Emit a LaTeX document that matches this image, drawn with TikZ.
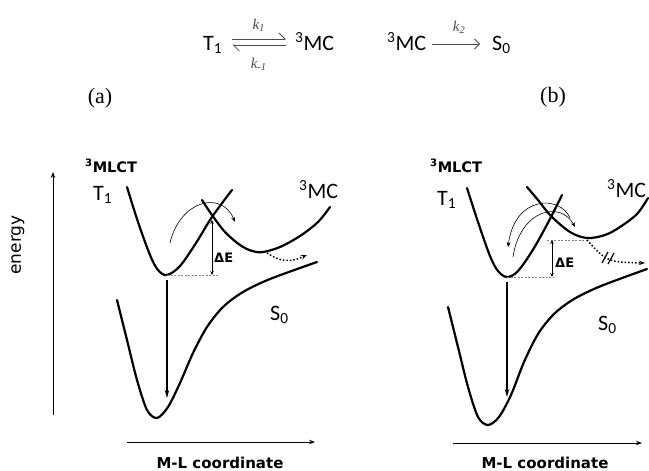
\documentclass[tikz,border=0pt]{standalone}
\usepackage{fontspec}
\setmainfont{Carlito}
\newfontfamily\labfont{DejaVu Sans}
\newfontfamily\serfont{Liberation Serif}
\usetikzlibrary{arrows.meta, positioning}

\begin{document}
\begin{tikzpicture}[x=1pt, y=-1pt, >=Stealth,
    pes/.style={line width=2.2pt, line cap=round, line join=round},
    axis/.style={line width=1pt, -{Stealth[length=6pt,width=4.5pt]}},
    emis/.style={line width=1.5pt, -{Stealth[length=8pt,width=4.5pt]}},
    thinarr/.style={line width=0.6pt, -{Stealth[length=5pt,width=4pt]}},
    gap/.style={line width=0.7pt, {Stealth[length=4pt,width=3.5pt]}-{Stealth[length=4pt,width=3.5pt]}},
    guide/.style={gray, line width=0.7pt, dash pattern=on 2pt off 1.5pt},
    hop/.style={line width=1.5pt, dash pattern=on 1.5pt off 2pt, -{Stealth[length=6pt,width=4.5pt]}},
    rxn/.style={line width=0.8pt, gray!60!black},
    species/.style={font=\fontsize{22}{22}\selectfont, inner sep=0pt},
    state/.style={font=\labfont\bfseries\fontsize{14.5}{14.5}\selectfont, inner sep=0pt},
    axlabel/.style={font=\labfont\bfseries\fontsize{15}{15}\selectfont, inner sep=0pt},
    gaplabel/.style={font=\labfont\bfseries\fontsize{13}{13}\selectfont, inner sep=0pt},
    rate/.style={font=\serfont\itshape\fontsize{15}{15}\selectfont, inner sep=0pt},
    panel/.style={font=\serfont\fontsize{22}{22}\selectfont, inner sep=0pt}]
    \useasboundingbox (0,0) rectangle (649,471);

    % Kinetic schemes
    \node[species, anchor=base west] (t1) at (203,50) {T\textsubscript{1}};
    \node[species, anchor=base west] (mc1) at (295,50) {\textsuperscript{3}MC};
    \node[species, anchor=base west] (mc2) at (387,50) {\textsuperscript{3}MC};
    \node[species, anchor=base west] (s0) at (492,50) {S\textsubscript{0}};
    \draw[rxn, -{Straight Barb[harpoon, length=6pt]}, shorten <=10pt, shorten >=9pt]
        ([yshift=11pt]t1.base east) -- ([yshift=11pt]mc1.base west)
        node[rate, midway, above=7pt] {k\textsubscript{1}};
    \draw[rxn, -{Straight Barb[harpoon, length=6pt]}, shorten <=9pt, shorten >=10pt]
        ([yshift=5pt]mc1.base west) -- ([yshift=5pt]t1.base east)
        node[rate, midway, below=13pt] {k\textsubscript{-1}};
    \draw[rxn, -{Straight Barb[length=5pt]}, shorten <=6pt, shorten >=12pt]
        ([yshift=6pt]mc2.base east) -- ([yshift=6pt]s0.base west)
        node[rate, midway, above=10pt] {k\textsubscript{2}};
    \node[panel] (pa) at (100,98) {(a)};
    \node[panel] (pb) at (553,97) {(b)};

    % Panel (a)
    \coordinate (ya) at (53,415);
    \coordinate (ytop) at (53,172);
    \coordinate (xa) at (127,442);
    \coordinate (xaend) at (315,442);
    \draw[axis] (ya) -- (ytop);
    \draw[axis] (xa) -- (xaend);
    \node[font=\labfont\fontsize{17}{17}\selectfont, rotate=90, inner sep=0pt] (energy) at (18,245) {energy};
    \node[axlabel] (mla) at (220,463) {M-L coordinate};
    \node[state, anchor=base west] (mlcta) at (85,172) {\textsuperscript{3}MLCT};
    \node[species, anchor=base west] (t1a) at (93,200) {T\textsubscript{1}};
    \node[species, anchor=base west] (mca) at (299,198) {\textsuperscript{3}MC};
    \node[species, anchor=base west] (s0a) at (270,320) {S\textsubscript{0}};

    \draw[pes] plot[smooth, tension=0.55] coordinates {(127,187) (138,222) (150,255) (158,270) (167,275) (180,266) (196,243) (212,217) (232,190)};
    \draw[pes] plot[smooth, tension=0.55] coordinates {(202,200) (212,215) (225,232) (240,245) (252,251) (263,252) (280,247) (300,236) (318,222) (330,207)};
    \draw[pes] plot[smooth, tension=0.5] coordinates {(117,300) (127,340) (137,380) (147,410) (157,418) (168,407) (180,383) (193,353) (207,327) (223,307) (243,292) (270,279) (317,262)};

    \coordinate (mina) at (167,275);
    \coordinate (emta) at (167,280);
    \coordinate (emba) at (167,398);
    \coordinate (dea) at (218,275);
    \coordinate (dtopa) at (212,220);
    \coordinate (dbota) at (212,275);
    \coordinate (mcmina) at (267,253);
    \coordinate (hopa) at (307,255);
    \coordinate (arcsa) at (170,243);
    \coordinate (arcea) at (235,222);
    \draw[guide] (mina) -- (dea);
    \draw[emis] (emta) -- (emba);
    \draw[gap] (dtopa) -- (dbota);
    \node[gaplabel, anchor=base west] (dEa) at (214,262) {ΔE};
    \draw[thinarr] (arcsa) .. controls (180,200) and (222,190) .. (arcea);
    \draw[hop] (mcmina) .. controls (285,265) and (295,260) .. (hopa);

    % Panel (b)
    \coordinate (xb) at (453,443);
    \coordinate (xbend) at (642,443);
    \draw[axis] (xb) -- (xbend);
    \node[axlabel] (mlb) at (545,463) {M-L coordinate};
    \node[state, anchor=base west] (mlctb) at (430,172) {\textsuperscript{3}MLCT};
    \node[species, anchor=base west] (t1b) at (437,205) {T\textsubscript{1}};
    \node[species, anchor=base west] (mcb) at (607,197) {\textsuperscript{3}MC};
    \node[species, anchor=base west] (s0b) at (598,330) {S\textsubscript{0}};

    \draw[pes] plot[smooth, tension=0.55] coordinates {(467,188) (478,222) (490,256) (498,271) (507,277) (518,271) (534,248) (551,217) (562,195)};
    \draw[pes] plot[smooth, tension=0.55] coordinates {(527,187) (538,200) (551,216) (570,232) (587,238) (605,235) (620,227) (637,214) (648,198)};
    \draw[pes] plot[smooth, tension=0.5] coordinates {(448,307) (458,347) (468,387) (478,417) (488,425) (499,417) (511,395) (524,362) (538,334) (554,314) (574,299) (601,286) (647,269)};

    \coordinate (minb) at (507,277);
    \coordinate (emtb) at (507,282);
    \coordinate (embb) at (507,397);
    \coordinate (deb) at (553,277);
    \coordinate (mcminb) at (587,240);
    \coordinate (deub) at (547,240);
    \coordinate (dtopb) at (552,240);
    \coordinate (dbotb) at (552,277);
    \coordinate (hopb) at (645,263);
    \coordinate (fwdsb) at (513,257);
    \coordinate (fwdeb) at (575,227);
    \coordinate (bcksb) at (570,218);
    \coordinate (bckeb) at (508,247);
    \draw[guide] (minb) -- (deb);
    \draw[guide] (deub) -- (mcminb);
    \draw[emis] (emtb) -- (embb);
    \draw[gap] (dtopb) -- (dbotb);
    \node[gaplabel, anchor=base west] (dEb) at (555,267) {ΔE};
    \draw[thinarr] (bcksb) .. controls (560,195) and (515,195) .. (bckeb);
    \draw[thinarr] (fwdsb) .. controls (520,210) and (560,200) .. (fwdeb);
    \draw[hop] (mcminb) .. controls (607,262) .. (hopb);
    % blocked path marks
    \draw[line width=1.2pt] (602,263) -- (608,252);
    \draw[line width=1.2pt] (608,264) -- (614,253);
\end{tikzpicture}
\end{document}
